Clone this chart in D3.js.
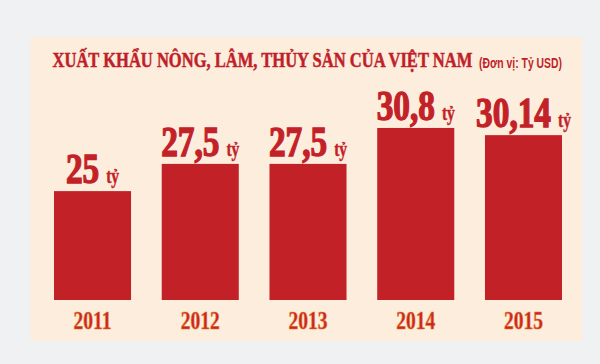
<!DOCTYPE html>
<html>
<head>
<meta charset="utf-8">
<script src="https://cdn.jsdelivr.net/npm/d3@7"></script>
<style>
  html, body { margin: 0; padding: 0; background: #eff1f3; }
  svg { display: block; }
</style>
</head>
<body>
<div id="chart"></div>
<script>
var years = ['2011', '2012', '2013', '2014', '2015'];
var values = [25, 27.5, 27.5, 30.8, 30.14];
var valueLabels = ['25', '27,5', '27,5', '30,8', '30,14'];
var unitLabel = 'tỷ';
var title = 'XUẤT KHẨU NÔNG, LÂM, THỦY SẢN CỦA VIỆT NAM';
var subtitle = '(Đơn vị: Tỷ USD)';

var width = 600, height = 364;
var red = '#c32128';
var serif = '"Liberation Serif", "Times New Roman", serif';

var svg = d3.select('#chart').append('svg')
    .attr('width', width)
    .attr('height', height);

svg.append('rect')
    .attr('width', width)
    .attr('height', height)
    .attr('fill', '#eff1f3');

// cream panel
svg.append('rect')
    .attr('x', 30.5)
    .attr('y', 37)
    .attr('width', 551.5)
    .attr('height', 304)
    .attr('fill', '#fdeddc');

// squeeze a text horizontally so it fills a given width
function fitText(g, targetWidth) {
    var t = g.select('text');
    var w = t.node().getComputedTextLength();
    g.attr('transform', g.attr('transform') + ' scale(' + (targetWidth / w) + ',1)');
}

var titleG = svg.append('g').attr('transform', 'translate(52.5,67.3)');
titleG.append('text')
    .attr('font-family', serif)
    .attr('font-weight', 'bold')
    .attr('font-size', 21)
    .attr('fill', '#c01f2a')
    .attr('stroke', '#c01f2a')
    .attr('stroke-width', 0.5)
    .text(title);
fitText(titleG, 420);

var subG = svg.append('g').attr('transform', 'translate(479,68.3)');
subG.append('text')
    .attr('font-family', '"Liberation Sans Narrow", "Liberation Sans", Arial, sans-serif')
    .attr('font-weight', 'bold')
    .attr('font-size', 15.5)
    .attr('fill', '#c01f2a')
    .text(subtitle);
fitText(subG, 83);

var x = d3.scaleBand()
    .domain(years)
    .range([54, 562])
    .paddingInner(0.285)
    .paddingOuter(0);

// the baseline of the original is cut, bars start from 15
var y = d3.scaleLinear()
    .domain([15, 33])
    .range([300, 104]);

svg.append('g')
    .attr('class', 'bars')
    .selectAll('rect')
    .data(values)
    .enter().append('rect')
    .attr('x', function (d, i) { return x(years[i]); })
    .attr('y', function (d) { return y(d); })
    .attr('width', x.bandwidth())
    .attr('height', function (d) { return y.range()[0] - y(d); })
    .attr('fill', red);

// value labels: big number + small "tỷ", squeezed horizontally
var label = svg.append('g')
    .attr('class', 'labels')
    .selectAll('g')
    .data(values)
    .enter().append('g')
    .attr('transform', function (d, i) {
        return 'translate(' + (x(years[i]) + x.bandwidth() / 2) + ',' + (y(d) - 8) + ') scale(0.775,1)';
    });

var labelText = label.append('text')
    .attr('text-anchor', 'middle')
    .attr('font-family', serif)
    .attr('font-weight', 'bold')
    .attr('fill', red)
    .attr('stroke', red);

labelText.append('tspan')
    .attr('font-size', 43)
    .attr('stroke-width', 1.4)
    .text(function (d, i) { return valueLabels[i]; });

labelText.append('tspan')
    .attr('dx', 9)
    .attr('font-size', 20)
    .attr('stroke-width', 0.4)
    .text(unitLabel);

// year labels under the bars
svg.append('g')
    .attr('class', 'years')
    .selectAll('g')
    .data(years)
    .enter().append('g')
    .attr('transform', function (d) {
        return 'translate(' + (x(d) + x.bandwidth() / 2) + ',328.5) scale(0.78,1)';
    })
    .append('text')
    .attr('text-anchor', 'middle')
    .attr('font-family', serif)
    .attr('font-weight', 'bold')
    .attr('font-size', 25)
    .attr('fill', '#cc2620')
    .attr('stroke', '#e07a2a')
    .attr('stroke-width', 0.6)
    .text(function (d) { return d; });
</script>
</body>
</html>
